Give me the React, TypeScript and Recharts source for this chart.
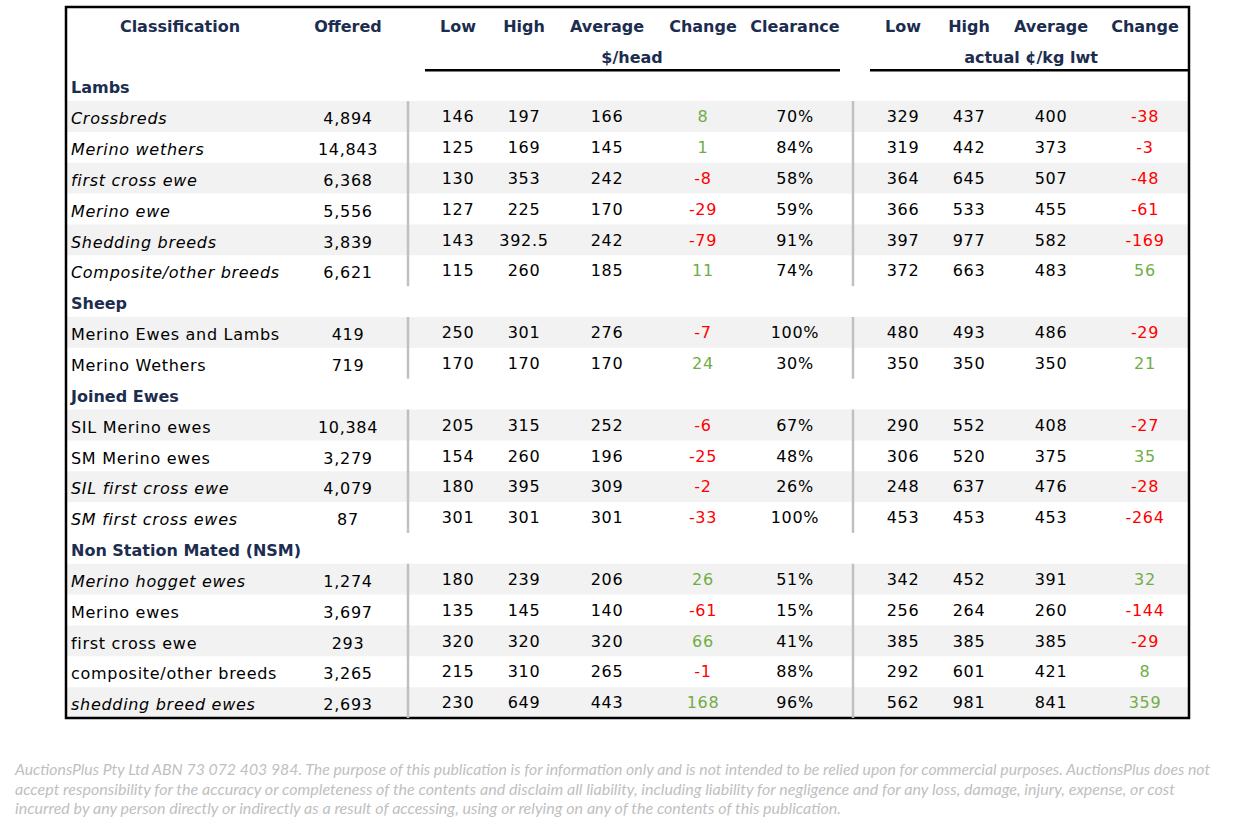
import {
  ScatterChart,
  Scatter,
  XAxis,
  YAxis,
  ReferenceArea,
  ReferenceLine,
} from "recharts";

// sections and their rows, in table order
const SECTIONS = ["Lambs", "Sheep", "Joined Ewes", "Non Station Mated (NSM)"];
const SECTION_SIZES = [6, 2, 4, 5];

const CLASSIFICATIONS = [
  "Crossbreds",
  "Merino wethers",
  "first cross ewe",
  "Merino ewe",
  "Shedding breeds",
  "Composite/other breeds",
  "Merino Ewes and Lambs",
  "Merino Wethers",
  "SIL Merino ewes",
  "SM Merino ewes",
  "SIL first cross ewe",
  "SM first cross ewes",
  "Merino hogget ewes",
  "Merino ewes",
  "first cross ewe",
  "composite/other breeds",
  "shedding breed ewes",
];
const ITALIC = [
  true, true, true, true, true, true,
  false, false,
  false, false, true, true,
  true, false, false, false, true,
];

const OFFERED = [4894, 14843, 6368, 5556, 3839, 6621, 419, 719, 10384, 3279, 4079, 87, 1274, 3697, 293, 3265, 2693];
const LOW_HEAD = [146, 125, 130, 127, 143, 115, 250, 170, 205, 154, 180, 301, 180, 135, 320, 215, 230];
const HIGH_HEAD = [197, 169, 353, 225, 392.5, 260, 301, 170, 315, 260, 395, 301, 239, 145, 320, 310, 649];
const AVG_HEAD = [166, 145, 242, 170, 242, 185, 276, 170, 252, 196, 309, 301, 206, 140, 320, 265, 443];
const CHANGE_HEAD = [8, 1, -8, -29, -79, 11, -7, 24, -6, -25, -2, -33, 26, -61, 66, -1, 168];
const CLEARANCE = [70, 84, 58, 59, 91, 74, 100, 30, 67, 48, 26, 100, 51, 15, 41, 88, 96];
const LOW_KG = [329, 319, 364, 366, 397, 372, 480, 350, 290, 306, 248, 453, 342, 256, 385, 292, 562];
const HIGH_KG = [437, 442, 645, 533, 977, 663, 493, 350, 552, 520, 637, 453, 452, 264, 385, 601, 981];
const AVG_KG = [400, 373, 507, 455, 582, 483, 486, 350, 408, 375, 476, 453, 391, 260, 385, 421, 841];
const CHANGE_KG = [-38, -3, -48, -61, -169, 56, -29, 21, -27, 35, -28, -264, 32, -144, -29, 8, 359];

const FOOTER = [
  "AuctionsPlus Pty Ltd ABN 73 072 403 984. The purpose of this publication is for information only and is not intended to be relied upon for commercial purposes. AuctionsPlus does not",
  "accept responsibility for the accuracy or completeness of the contents and disclaim all liability, including liability for negligence and for any loss, damage, injury, expense, or cost",
  "incurred by any person directly or indirectly as a result of accessing, using or relying on any of the contents of this publication.",
];
const FOOTER_WIDTHS = [1195, 1160, 826];

// layout
const W = 1248;
const H = 824;
const LEFT = 66;
const RIGHT = 1189;
const TOP_ROW = -2.05;
const N_ROWS = SECTIONS.length + CLASSIFICATIONS.length;
const NAVY = "#1c2d4f";
const GREEN = "#70ad47";
const RED = "#ff0000";
const FONT = "'DejaVu Sans', Verdana, sans-serif";

type Col = {
  header: string;
  x: number;
  values: number[];
  fmt: (v: number) => string;
  signed?: boolean;
  dy?: number;
};

const COLUMNS: Col[] = [
  { header: "Offered", x: 348, values: OFFERED, fmt: (v) => v.toLocaleString("en-US"), dy: 2 },
  { header: "Low", x: 458, values: LOW_HEAD, fmt: String },
  { header: "High", x: 524, values: HIGH_HEAD, fmt: String },
  { header: "Average", x: 607, values: AVG_HEAD, fmt: String },
  { header: "Change", x: 703, values: CHANGE_HEAD, fmt: String, signed: true },
  { header: "Clearance", x: 795, values: CLEARANCE, fmt: (v) => `${v}%` },
  { header: "Low", x: 903, values: LOW_KG, fmt: String },
  { header: "High", x: 969, values: HIGH_KG, fmt: String },
  { header: "Average", x: 1051, values: AVG_KG, fmt: String },
  { header: "Change", x: 1145, values: CHANGE_KG, fmt: String, signed: true },
];

type Cell = {
  x: number;
  y: number;
  label: string;
  color: string;
  anchor: "start" | "middle";
  bold?: boolean;
  italic?: boolean;
  dy?: number;
};

// assign a row index to each section heading and data row
const sectionRows: number[] = [];
const dataRows: number[] = [];
{
  let r = 0;
  SECTION_SIZES.forEach((n) => {
    sectionRows.push(r++);
    for (let i = 0; i < n; i++) dataRows.push(r++);
  });
}

const labelCells: Cell[] = [
  ...SECTIONS.map((s, i) => ({
    x: 71,
    y: sectionRows[i] + 0.5,
    label: s,
    color: NAVY,
    anchor: "start" as const,
    bold: true,
    dy: 2,
  })),
  ...CLASSIFICATIONS.map((c, i) => ({
    x: 71,
    y: dataRows[i] + 0.5,
    label: c,
    color: "#000",
    anchor: "start" as const,
    italic: ITALIC[i],
    dy: 2,
  })),
];

const headerCells: Cell[] = [
  { x: 180, y: -1.43, label: "Classification", color: NAVY, anchor: "middle", bold: true },
  ...COLUMNS.map((c) => ({
    x: c.x,
    y: -1.43,
    label: c.header,
    color: NAVY,
    anchor: "middle" as const,
    bold: true,
  })),
  { x: 632, y: -0.43, label: "$/head", color: NAVY, anchor: "middle", bold: true },
  { x: 1031, y: -0.43, label: "actual ¢/kg lwt", color: NAVY, anchor: "middle", bold: true },
];

const columnCells = (col: Col): Cell[] =>
  col.values.map((v, i) => ({
    x: col.x,
    y: dataRows[i] + 0.5,
    label: col.fmt(v),
    color: col.signed ? (v < 0 ? RED : GREEN) : "#000",
    anchor: "middle",
    dy: col.dy,
  }));

const TextCell = (props: any) => {
  const { cx, cy, payload } = props;
  if (cx == null || cy == null) return null;
  const p = payload as Cell;
  return (
    <text
      x={cx}
      y={cy + (p.dy ?? 0)}
      dy="0.36em"
      textAnchor={p.anchor}
      fill={p.color}
      fontFamily={FONT}
      fontSize={16}
      fontWeight={p.bold ? 700 : 400}
      fontStyle={p.italic ? "italic" : "normal"}
      letterSpacing={p.bold ? 0 : 0.7}
    >
      {p.label}
    </text>
  );
};

// separator segments span the data rows of each section
const separatorSpans = SECTION_SIZES.map((n, i) => ({
  from: sectionRows[i] + 1,
  to: sectionRows[i] + 1 + n,
}));

export default function App() {
  return (
    <div style={{ position: "absolute", left: 0, top: 0, width: W, height: H, background: "#fff" }}>
      <ScatterChart
        width={W}
        height={H}
        margin={{ top: 7, right: W - RIGHT, bottom: H - 718, left: LEFT }}
      >
        <XAxis type="number" dataKey="x" domain={[LEFT, RIGHT]} hide allowDataOverflow />
        <YAxis type="number" dataKey="y" domain={[TOP_ROW, N_ROWS]} reversed hide allowDataOverflow />

        {dataRows
          .filter((_, i) => {
            // first data row of each section is shaded, then alternate
            let start = 0;
            for (let s = 0; s < SECTION_SIZES.length; s++) {
              if (i < start + SECTION_SIZES[s]) return (i - start) % 2 === 0;
              start += SECTION_SIZES[s];
            }
            return false;
          })
          .map((r) => (
            <ReferenceArea
              key={`band-${r}`}
              x1={LEFT}
              x2={RIGHT}
              y1={r}
              y2={r + 1}
              fill="#f2f2f2"
              fillOpacity={1}
              stroke="none"
            />
          ))}

        {separatorSpans.map((s, i) =>
          [408, 853].map((x) => (
            <ReferenceLine
              key={`sep-${i}-${x}`}
              segment={[
                { x, y: s.from },
                { x, y: s.to },
              ]}
              stroke="#c0c0c0"
              strokeWidth={2.5}
            />
          )),
        )}

        <ReferenceLine
          segment={[
            { x: 425, y: 0 },
            { x: 840, y: 0 },
          ]}
          stroke="#000"
          strokeWidth={2.5}
        />
        <ReferenceLine
          segment={[
            { x: 870, y: 0 },
            { x: RIGHT, y: 0 },
          ]}
          stroke="#000"
          strokeWidth={2.5}
        />

        <Scatter data={headerCells} shape={TextCell} isAnimationActive={false} />
        <Scatter data={labelCells} shape={TextCell} isAnimationActive={false} />
        {COLUMNS.map((col, i) => (
          <Scatter key={`col-${i}`} data={columnCells(col)} shape={TextCell} isAnimationActive={false} />
        ))}

        <ReferenceArea
          x1={LEFT}
          x2={RIGHT}
          y1={TOP_ROW}
          y2={N_ROWS}
          fill="none"
          stroke="#000"
          strokeWidth={2.5}
        />
      </ScatterChart>

      <svg width={W} height={80} style={{ position: "absolute", left: 0, top: 755 }}>
        {FOOTER.map((line, i) => (
          <text
            key={i}
            x={15}
            y={20 + i * 19.5}
            fill="#bfbfbf"
            fontFamily="Lato, 'Open Sans', sans-serif"
            fontStyle="italic"
            fontSize={14.5}
            textLength={FOOTER_WIDTHS[i]}
            lengthAdjust="spacingAndGlyphs"
          >
            {line}
          </text>
        ))}
      </svg>
    </div>
  );
}
